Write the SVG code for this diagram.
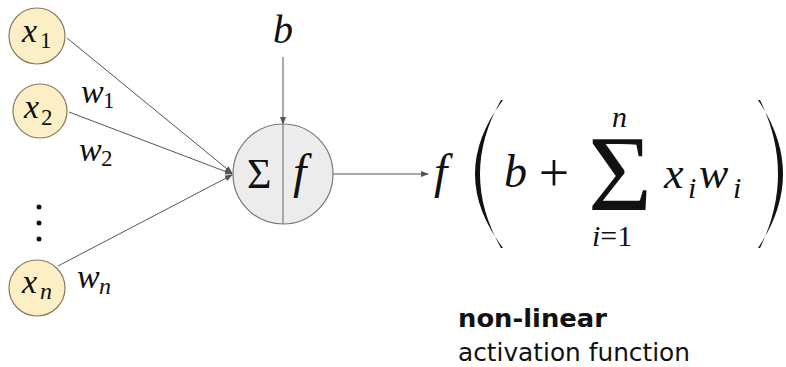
<svg xmlns="http://www.w3.org/2000/svg" width="786" height="367" viewBox="0 0 786 367">
<style>
.m{font-style:italic;fill:#111}
.u{font-style:normal;fill:#111}
.in{fill:#fcefc6;stroke:#857b5c;stroke-width:1.2}
.con{stroke:#555;stroke-width:1;fill:none}
</style>
<defs>
<marker id="ah" markerWidth="8" markerHeight="6" refX="7" refY="3" orient="auto" markerUnits="userSpaceOnUse">
<path d="M0,0 L8,3 L0,6 Z" fill="#555"/>
</marker>
</defs>
<rect width="786" height="367" fill="#fff"/>
<g id="connectors">
<line class="con" x1="67" y1="38" x2="232" y2="173" marker-end="url(#ah)"/>
<line class="con" x1="69" y1="112" x2="232" y2="174" marker-end="url(#ah)"/>
<line class="con" x1="58" y1="266" x2="232" y2="175" marker-end="url(#ah)"/>
<line class="con" x1="283" y1="57" x2="283" y2="124" marker-end="url(#ah)"/>
<line class="con" x1="333" y1="174" x2="428" y2="174" marker-end="url(#ah)"/>
</g>
<g font-family="Liberation Serif, DejaVu Serif, serif">
<g id="x1">
<circle class="in" cx="37" cy="36" r="28"/>
<text class="m" x="22" y="42" font-size="34">x</text>
<text class="u" x="40" y="48" font-size="23">1</text>
</g>
<g id="x2">
<circle class="in" cx="40" cy="111" r="27"/>
<text class="m" x="24" y="118" font-size="34">x</text>
<text class="u" x="41" y="125" font-size="23">2</text>
</g>
<g id="dots">
<circle cx="39" cy="207" r="2.5" fill="#111"/>
<circle cx="39" cy="223" r="2.5" fill="#111"/>
<circle cx="39" cy="239" r="2.5" fill="#111"/>
</g>
<g id="xn">
<circle class="in" cx="37" cy="288" r="28"/>
<text class="m" x="22" y="293" font-size="34">x</text>
<text class="m" x="40" y="299" font-size="24">n</text>
</g>
<g id="weights">
<text class="m" x="81" y="103" font-size="34">w</text>
<text class="u" x="103" y="108" font-size="23">1</text>
<text class="m" x="79" y="161" font-size="34">w</text>
<text class="u" x="101" y="166" font-size="23">2</text>
<text class="m" x="77" y="288" font-size="34">w</text>
<text class="m" x="99" y="294" font-size="24">n</text>
</g>
<g id="bias">
<text class="m" x="273" y="43" font-size="40">b</text>
</g>
<g id="neuron">
<circle cx="283" cy="174" r="50" fill="#ececec" stroke="#777" stroke-width="1.2"/>
<line x1="283" y1="124" x2="283" y2="224" stroke="#666" stroke-width="1"/>
<text class="u" x="247" y="188" font-size="42">Σ</text>
<text class="m" x="293" y="188" font-size="48">f</text>
</g>
<g id="formula">
<text class="m" x="434" y="188" font-size="48">f</text>
<path d="M503,100 Q447,174 503,248 L501,248 Q459,174 501,100 Z" fill="#111"/>
<text class="m" x="504" y="187" font-size="46">b</text>
<text class="u" x="554" y="191" font-size="54" text-anchor="middle">+</text>
<text class="u" x="620" y="210" font-size="108" text-anchor="middle" textLength="64" lengthAdjust="spacingAndGlyphs">Σ</text>
<text class="m" x="612" y="127" font-size="30">n</text>
<text class="m" x="592" y="246" font-size="30">i<tspan class="u">=1</tspan></text>
<text class="m" x="664" y="188" font-size="44">x</text>
<text class="m" x="688" y="198" font-size="30">i</text>
<text class="m" x="699" y="188" font-size="44">w</text>
<text class="m" x="733" y="198" font-size="30">i</text>
<path d="M758,100 Q808,174 758,248 L760,248 Q796,174 760,100 Z" fill="#111"/>
</g>
</g>
<g id="caption" font-family="DejaVu Sans, Verdana, sans-serif" fill="#111">
<text x="458" y="327" font-size="25" font-weight="bold" textLength="149" lengthAdjust="spacingAndGlyphs">non-linear</text>
<text x="458" y="361" font-size="25" textLength="232" lengthAdjust="spacingAndGlyphs">activation function</text>
</g>
</svg>
